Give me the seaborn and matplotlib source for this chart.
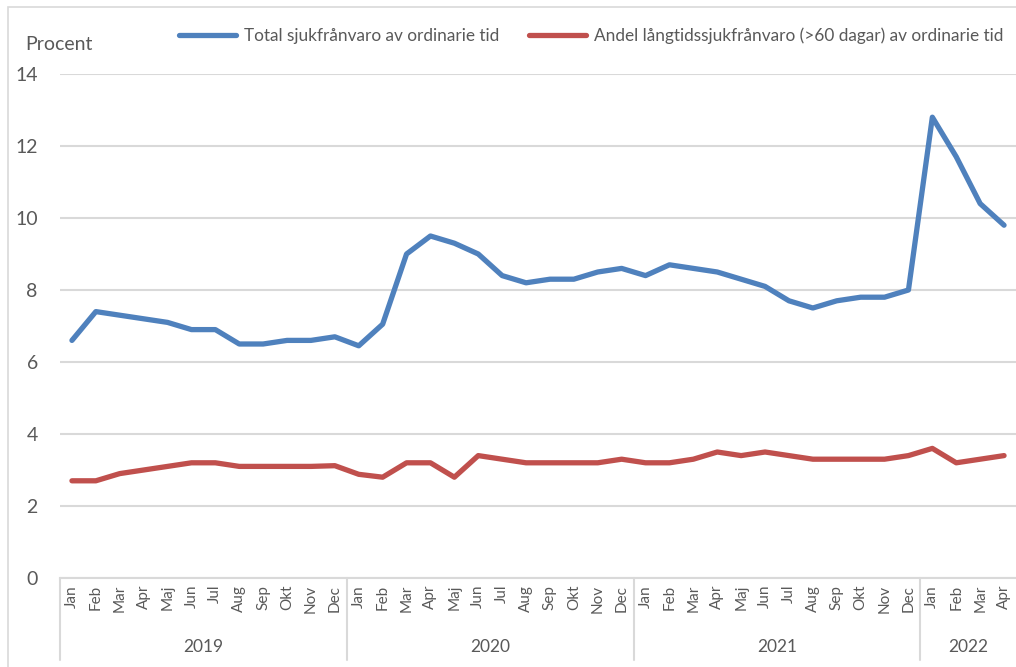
import matplotlib
matplotlib.use("Agg")
import matplotlib.pyplot as plt
import matplotlib.transforms as mtransforms
from matplotlib.patches import Rectangle
import pandas as pd
import seaborn as sns

months = ["Jan", "Feb", "Mar", "Apr", "Maj", "Jun", "Jul", "Aug", "Sep", "Okt", "Nov", "Dec"]
years = ["2019", "2020", "2021", "2022"]
months_per_year = [12, 12, 12, 4]

total = [6.6, 7.4, 7.3, 7.2, 7.1, 6.9, 6.9, 6.5, 6.5, 6.6, 6.6, 6.7,
         6.45, 7.05, 9.0, 9.5, 9.3, 9.0, 8.4, 8.2, 8.3, 8.3, 8.5, 8.6,
         8.4, 8.7, 8.6, 8.5, 8.3, 8.1, 7.7, 7.5, 7.7, 7.8, 7.8, 8.0,
         12.8, 11.7, 10.4, 9.8]
long_term = [2.7, 2.7, 2.9, 3.0, 3.1, 3.2, 3.2, 3.1, 3.1, 3.1, 3.1, 3.12,
             2.88, 2.8, 3.2, 3.2, 2.8, 3.4, 3.3, 3.2, 3.2, 3.2, 3.2, 3.3,
             3.2, 3.2, 3.3, 3.5, 3.4, 3.5, 3.4, 3.3, 3.3, 3.3, 3.3, 3.4,
             3.6, 3.2, 3.3, 3.4]

label_total = "Total sjukfrånvaro av ordinarie tid"
label_long = "Andel långtidssjukfrånvaro (>60 dagar) av ordinarie tid"

month_labels = []
for n in months_per_year:
    month_labels += months[:n]
idx = list(range(len(month_labels)))

df = pd.DataFrame({
    "idx": idx + idx,
    "value": total + long_term,
    "series": [label_total] * len(idx) + [label_long] * len(idx),
})

sns.set_theme(style="white")
plt.rcParams["font.family"] = ["Lato", "DejaVu Sans"]
text_color = "#595959"
grid_color = "#D9D9D9"

fig = plt.figure(figsize=(10.16, 6.67), dpi=100)
ax = fig.add_axes([60 / 1016, 89 / 667, 956 / 1016, 504 / 667])

sns.lineplot(data=df, x="idx", y="value", hue="series",
             palette=["#4F81BD", "#C0504D"], linewidth=3.8, ax=ax,
             legend=True, solid_capstyle="round")

ax.set_xlim(-0.5, len(idx) - 0.5)
ax.set_ylim(0, 14)
ax.set_yticks(range(0, 15, 2))
ax.grid(axis="y", color=grid_color, linewidth=1.5)
ax.set_axisbelow(True)
for s in ["left", "right", "top"]:
    ax.spines[s].set_visible(False)
ax.spines["bottom"].set_color(grid_color)
ax.spines["bottom"].set_linewidth(1.5)
ax.set_xlabel("")
ax.set_ylabel("")

ax.set_xticks(idx)
ax.set_xticklabels(month_labels, rotation=90, fontsize=11, color=text_color)
ax.tick_params(axis="x", length=0, pad=5)
ax.tick_params(axis="y", length=0, pad=16, labelsize=14, labelcolor=text_color)

# year group separators and labels
trans = mtransforms.blended_transform_factory(ax.transData, ax.transAxes)
start = -0.5
for year, n in zip(years, months_per_year):
    ax.plot([start, start], [0, -0.163], transform=trans, color=grid_color,
            linewidth=1.5, clip_on=False)
    ax.text(start + n / 2, -0.137, year, transform=trans, ha="center", va="center",
            fontsize=12.5, color=text_color)
    start += n

fig.text(25 / 1016, 1 - 44 / 667, "Procent", ha="left", va="center",
         fontsize=14, color=text_color)

ax.get_legend().remove()
handles, labels = ax.get_legend_handles_labels()
leg = fig.legend(handles, labels, loc="center", bbox_to_anchor=(0.582, 1 - 36 / 667),
                 ncol=2, frameon=False, fontsize=12.4, handlelength=3.3,
                 handletextpad=0.5, columnspacing=1.7)
for t in leg.get_texts():
    t.set_color(text_color)

fig.patches.append(Rectangle((8 / 1016, -0.01), 1.0, 1 - 7 / 667 + 0.01,
                             transform=fig.transFigure, fill=False,
                             edgecolor=grid_color, linewidth=1.2))

fig.savefig("out.png", dpi=100)
